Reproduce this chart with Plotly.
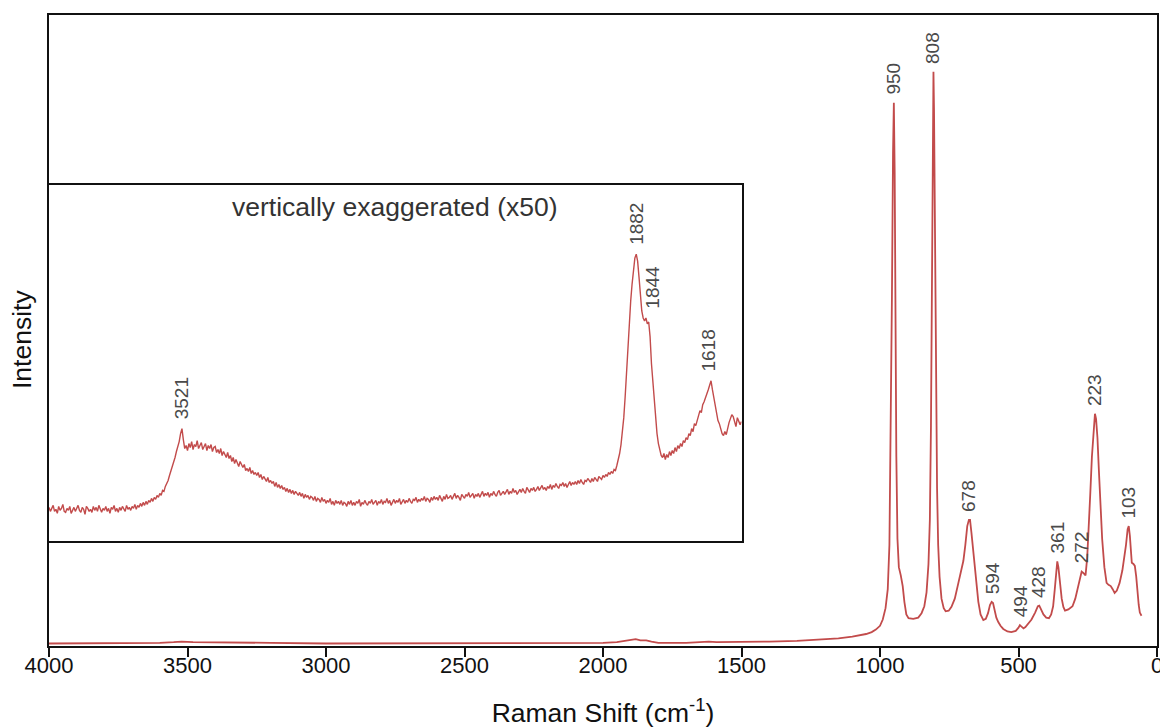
import plotly.graph_objects as go

# full spectrum (Raman shift in cm-1, intensity normalised)
shift = [4000, 3800, 3600, 3550, 3521, 3480, 3400, 3200, 3000, 2500, 2100, 2000, 1950, 1920, 1900,
         1882, 1865, 1844, 1825, 1800, 1700, 1640, 1618, 1590, 1500, 1400, 1300, 1200, 1150, 1100,
         1050, 1030, 1015, 1000, 990, 980, 972, 966, 961, 957, 953, 950, 947, 944, 941, 937, 932,
         925, 918, 912, 905, 897, 880, 862, 850, 840, 832, 825, 820, 816, 812, 809, 807, 805, 802,
         798, 794, 790, 785, 778, 770, 763, 752, 742, 730, 717, 705, 699, 692, 685, 679, 675, 670,
         664, 657, 650, 645, 637, 627, 618, 610, 603, 597, 592, 587, 580, 573, 565, 555, 540, 526,
         510, 500, 495, 490, 482, 475, 463, 453, 440, 430, 425, 418, 410, 400, 390, 382, 375, 369,
         364, 360, 356, 350, 344, 338, 332, 320, 305, 295, 285, 278, 272, 266, 258, 252, 247, 241,
         235, 229, 224, 220, 215, 210, 205, 198, 190, 182, 175, 167, 160, 153, 145, 135, 125, 118,
         112, 106, 102, 98, 94, 91, 85, 80, 75, 71, 66, 62, 56]
intensity = [0.004, 0.004, 0.005, 0.006, 0.007, 0.006, 0.006, 0.005, 0.004, 0.004, 0.005, 0.005, 0.006, 0.008, 0.010,
             0.011, 0.009, 0.009, 0.007, 0.005, 0.005, 0.006, 0.007, 0.006, 0.006, 0.007, 0.008, 0.010, 0.012, 0.015,
             0.019, 0.022, 0.026, 0.032, 0.042, 0.06, 0.09, 0.16, 0.33, 0.55, 0.78, 0.861, 0.75, 0.5, 0.3, 0.17, 0.125,
             0.112, 0.095, 0.07, 0.05, 0.044, 0.043, 0.045, 0.052, 0.063, 0.085, 0.13, 0.2, 0.35, 0.6, 0.83, 0.91, 0.85, 0.65,
             0.4, 0.25, 0.16, 0.11, 0.075, 0.06, 0.055, 0.056, 0.062, 0.075, 0.1, 0.125, 0.135, 0.16, 0.19, 0.2, 0.2, 0.18,
             0.155, 0.125, 0.09, 0.07, 0.05, 0.041, 0.043, 0.052, 0.065, 0.07, 0.068, 0.056, 0.045, 0.038, 0.032, 0.027, 0.023, 0.022,
             0.024, 0.029, 0.033, 0.031, 0.028, 0.03, 0.036, 0.042, 0.053, 0.063, 0.064, 0.058, 0.05, 0.045, 0.044, 0.05, 0.063, 0.09,
             0.12, 0.134, 0.125, 0.1, 0.075, 0.062, 0.056, 0.058, 0.063, 0.075, 0.092, 0.108, 0.118, 0.116, 0.112, 0.14, 0.18, 0.24,
             0.3, 0.345, 0.368, 0.36, 0.33, 0.28, 0.23, 0.17, 0.125, 0.1, 0.097, 0.095, 0.09, 0.084, 0.088, 0.1, 0.12, 0.14,
             0.16, 0.185, 0.19, 0.175, 0.14, 0.132, 0.13, 0.127, 0.11, 0.085, 0.065, 0.053, 0.048]
assert len(shift) == len(intensity)

peaks = [950, 808, 678, 594, 494, 428, 361, 272, 223, 103]
peak_heights = [0.861, 0.91, 0.2, 0.07, 0.033, 0.064, 0.134, 0.118, 0.368, 0.19]

# inset: 4000-1500 cm-1, every 5 cm-1, vertically exaggerated (one row = 50 cm-1)
inset_shift = list(range(4000, 1499, -5))
inset_int = [34, 30, 33, 36, 30, 32, 28, 35, 31, 33,
             37, 30, 29, 33, 31, 35, 28, 32, 34, 30,
             33, 36, 31, 29, 34, 32, 27, 35, 33, 30,
             32, 29, 35, 31, 34, 30, 36, 32, 29, 33,
             31, 35, 30, 33, 28, 34, 32, 36, 30, 33,
             29, 34, 31, 35, 33, 30, 36, 32, 34, 31,
             35, 33, 37, 32, 36, 34, 38, 35, 39, 36,
             40, 37, 41, 39, 43, 40, 44, 42, 46, 44,
             48, 46, 51, 50, 55, 58, 61, 66, 70, 75,
             80, 84, 90, 95, 100, 108, 113, 102, 93, 96,
             91, 98, 94, 100, 92, 97, 95, 101, 93, 96,
             99, 92, 95, 98, 91, 96, 93, 97, 90, 94,
             95, 89, 92, 88, 93, 86, 90, 87, 84, 89,
             83, 86, 80, 84, 78, 82, 79, 75, 80, 76,
             74, 77, 71, 73, 70, 74, 68, 71, 67, 69,
             66, 69, 64, 67, 62, 65, 63, 60, 64, 59,
             61, 58, 60, 55, 59, 54, 57, 53, 56, 52,
             54, 50, 53, 49, 52, 48, 51, 47, 50, 48,
             46, 49, 45, 48, 43, 47, 44, 46, 42, 45,
             44, 41, 45, 40, 43, 42, 39, 44, 40, 42,
             38, 41, 39, 43, 37, 40, 36, 41, 38, 40,
             37, 41, 36, 39, 38, 35, 40, 37, 41, 36,
             39, 36, 40, 38, 42, 35, 39, 37, 41, 38,
             36, 40, 38, 42, 37, 39, 41, 36, 40, 38,
             42, 37, 40, 39, 43, 38, 41, 36, 40, 42,
             38, 41, 39, 43, 37, 40, 42, 38, 41, 39,
             43, 40, 38, 42, 41, 44, 39, 42, 40, 43,
             41, 45, 40, 43, 42, 39, 44, 41, 45, 42,
             44, 41, 46, 43, 40, 45, 42, 47, 43, 44,
             46, 42, 45, 48, 43, 46, 44, 41, 47, 45,
             43, 47, 45, 49, 44, 46, 48, 43, 47, 45,
             48, 44, 47, 50, 45, 48, 46, 49, 44, 48,
             46, 50, 47, 45, 49, 51, 46, 48, 50, 47,
             49, 52, 47, 50, 48, 53, 49, 51, 47, 50,
             52, 49, 53, 50, 48, 54, 51, 49, 53, 51,
             54, 50, 52, 55, 51, 53, 56, 52, 54, 51,
             55, 53, 57, 52, 56, 54, 58, 55, 53, 57,
             56, 59, 55, 58, 54, 57, 60, 56, 59, 57,
             60, 57, 61, 58, 62, 59, 57, 61, 60, 63,
             61, 59, 63, 60, 64, 62, 60, 65, 63, 62,
             66, 64, 67, 65, 69, 67, 70, 68, 72, 71,
             76, 81, 88, 97, 108, 124, 145, 170, 198, 222,
             241, 258, 272, 284, 288, 281, 265, 248, 231, 224,
             221, 224, 218, 220, 205, 178, 158, 138, 122, 108,
             98, 90, 86, 84, 88, 82, 87, 84, 90, 86,
             91, 88, 94, 90, 96, 93, 98, 95, 101, 99,
             104, 102, 108, 106, 113, 110, 118, 116, 122, 126,
             131, 129, 137, 140, 145, 148, 152, 157, 161, 152,
             144, 136, 128, 121, 118, 113, 108, 106, 110, 107,
             114, 119, 123, 127, 125, 120, 115, 124, 121, 117,
             120]
assert len(inset_shift) == len(inset_int)

inset_peaks = [3521, 1882, 1844, 1618]
inset_heights = [113, 288, 224, 161]
inset_xshift = [0, 0, 6, 0]

red = "#c24b4b"
font = "Liberation Sans, Arial, sans-serif"

fig = go.Figure()
fig.add_trace(go.Scatter(x=shift, y=intensity, mode="lines",
                         line=dict(color=red, width=1.8), showlegend=False))
fig.add_trace(go.Scatter(x=inset_shift, y=inset_int, mode="lines", xaxis="x2", yaxis="y2",
                         line=dict(color=red, width=1.4), showlegend=False))

annotations = []
for p, h in zip(peaks, peak_heights):
    annotations.append(dict(x=p, y=h, xref="x", yref="y",
                            text=str(p), textangle=-90, showarrow=False,
                            yanchor="bottom", yshift=6,
                            font=dict(size=19, color="#4a4a4a", family=font)))
for p, h, xs in zip(inset_peaks, inset_heights, inset_xshift):
    annotations.append(dict(x=p, y=h, xref="x2", yref="y2", text=str(p), textangle=-90,
                            showarrow=False, yanchor="bottom", yshift=7, xshift=xs,
                            font=dict(size=19, color="#4a4a4a", family=font)))
annotations.append(dict(x=0.5, y=0.94, xref="x2 domain", yref="y2 domain", yanchor="middle",
                        text="vertically exaggerated (x50)", showarrow=False,
                        font=dict(size=26.5, color="#333333", family=font)))
annotations.append(dict(x=-0.0243, y=0.485, xref="paper", yref="paper", textangle=-90,
                        text="Intensity", showarrow=False, xanchor="center", yanchor="middle",
                        font=dict(size=26.5, color="#111111", family=font)))

# page body has an 8px margin, so the figure is sized to fill the rest of the window
fig.update_layout(
    width=1160, height=720,
    margin=dict(l=41, r=9, t=5, b=82),
    paper_bgcolor="white", plot_bgcolor="white",
    font=dict(family=font, color="#111111"),
    annotations=annotations,
    xaxis=dict(range=[4000, 0], tickvals=[4000, 3500, 3000, 2500, 2000, 1500, 1000, 500, 0],
               ticks="outside", ticklen=9, tickwidth=2, tickcolor="#111111",
               showline=True, linecolor="#111111", linewidth=2, mirror=True,
               showgrid=False, zeroline=False, tickfont=dict(size=22), ticklabelstandoff=-10,
               title=dict(text="Raman Shift (cm<sup>-1</sup>)", font=dict(size=26.5), standoff=26)),
    yaxis=dict(range=[0, 1], showticklabels=False, ticks="", showgrid=False, zeroline=False,
               showline=True, linecolor="#111111", linewidth=2, mirror=True),
    xaxis2=dict(domain=[0, 0.625], range=[4000, 1500], anchor="y2",
                showticklabels=False, ticks="", showgrid=False, zeroline=False,
                showline=True, linecolor="#111111", linewidth=2, mirror=True),
    yaxis2=dict(domain=[0.166, 0.730], range=[0, 357], anchor="x2",
                showticklabels=False, ticks="", showgrid=False, zeroline=False,
                showline=True, linecolor="#111111", linewidth=2, mirror=True),
)

fig.write_html("out.html")
